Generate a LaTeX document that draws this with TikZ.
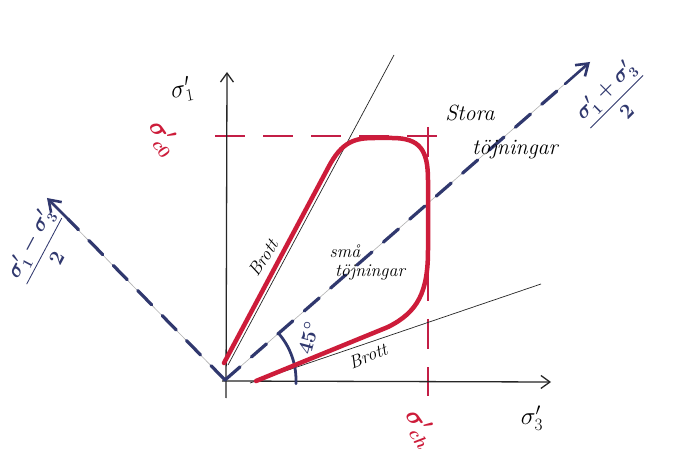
\documentclass[tikz,border=0pt]{standalone}
\usepackage{amsmath}
\usetikzlibrary{arrows.meta}
\definecolor{penred}{RGB}{205,28,58}
\definecolor{penblue}{RGB}{48,56,110}
\definecolor{dashred}{RGB}{195,30,70}
\begin{document}
\begin{tikzpicture}[x=1pt,y=-1pt,
  axisline/.style={draw=black!85, line width=1.3pt, -{Straight Barb[length=9pt,width=13pt,line width=1.3pt]}},
  guide/.style={draw=dashred, line width=1.2pt, dash pattern=on 30pt off 18pt},
  thinline/.style={draw=black!85, line width=0.7pt},
  curve/.style={draw=penred, line width=4.5pt, line cap=round, line join=round},
  greyline/.style={draw=black!30, line width=0.6pt},
  bluedash/.style={draw=penblue, line width=3.2pt, line cap=round, dash pattern=on 20pt off 15pt},
  bluetip/.style={draw=penblue, line width=2.6pt, line cap=round, -{Straight Barb[length=11pt,width=15pt,line width=2.6pt]}},
  lbl/.style={font=\fontsize{18}{22}\selectfont\itshape, inner sep=0pt},
  biglbl/.style={font=\fontsize{22}{26}\selectfont\itshape, inner sep=0pt},
  mathlbl/.style={font=\fontsize{23}{27}\selectfont, inner sep=0pt},
  redlbl/.style={font=\fontsize{26}{30}\selectfont\boldmath, text=penred, inner sep=0pt},
  bluelbl/.style={font=\fontsize{20}{24}\selectfont\boldmath, text=penblue, inner sep=0pt}
]
\useasboundingbox (0,0) rectangle (678,473);
\fill[white] (0,0) rectangle (678,473);

% coordinates
\coordinate (O) at (225,380);
\coordinate (vb) at (226,398);
\coordinate (vt) at (227,72);
\coordinate (hl) at (222,381);
\coordinate (hr) at (551,382);
\coordinate (d1) at (590,62);
\coordinate (d1a) at (565,84);
\coordinate (d2) at (47,198);
\coordinate (d2a) at (68,219);
\coordinate (gl) at (215,136);
\coordinate (gr) at (442,136);
\coordinate (gt) at (428,127);
\coordinate (gb) at (428,396);
\coordinate (u1) at (228,365);
\coordinate (u2) at (394,55);
\coordinate (l1) at (250,383);
\coordinate (l2) at (541,284);

% red guide lines
\draw[guide] (gl) -- (gr);
\draw[guide] (gt) -- (gb);

% thin failure lines
\draw[thinline] (u1) -- (u2);
\draw[thinline] (l1) -- (l2);

% axes
\draw[axisline] (vb) -- (vt);
\draw[axisline] (hl) -- (hr);

% blue diagonals
\draw[greyline] (O) -- (d1);
\draw[greyline] (O) -- (d2);
\draw[bluedash] (O) -- (d1a);
\draw[bluedash] (O) -- (d2a);
\draw[bluetip] (d1a) -- (d1);
\draw[bluetip] (d2a) -- (d2);

% 45 degree arc
\draw[draw=penblue, line width=2.8pt, line cap=round] (O) ++(3:71) arc[start angle=3, end angle=-40, radius=71];

% red curve
\draw[curve] (224,363) -- (328,168) .. controls (342,141) and (355,138) .. (375,138)
  -- (392,138) .. controls (420,138) and (428,150) .. (428,180)
  -- (428,250) .. controls (428,292) and (418,312) .. (388,327) -- (256,381);

% labels
\node[mathlbl, rotate=10] (s1) at (182,90) {$\sigma_1'$};
\node[mathlbl] (s3) at (532,418) {$\sigma_3'$};
\node[redlbl, rotate=-55] (sc0) at (163,138) {$\sigma_{c0}'$};
\node[redlbl, rotate=-55] (sch) at (420,428) {$\sigma_{ch}'$};
\node[lbl, rotate=57] (b1) at (263,258) {Brott};
\node[lbl, rotate=22] (b2) at (368,356) {Brott};
\node[lbl] (sm1) at (345,251) {små};
\node[lbl] (sm2) at (370,272) {töjningar};
\node[biglbl] (st1) at (470,113) {Stora};
\node[biglbl] (st2) at (515,150) {töjningar};
\node[bluelbl, rotate=75] (deg) at (308,338) {$45^\circ$};
\node[bluelbl, rotate=45] (f1) at (615,100) {$\dfrac{\sigma_1'+\sigma_3'}{2}$};
\node[bluelbl, rotate=62] (f2) at (42,250) {$\dfrac{\sigma_1'-\sigma_3'}{2}$};
\end{tikzpicture}
\end{document}
